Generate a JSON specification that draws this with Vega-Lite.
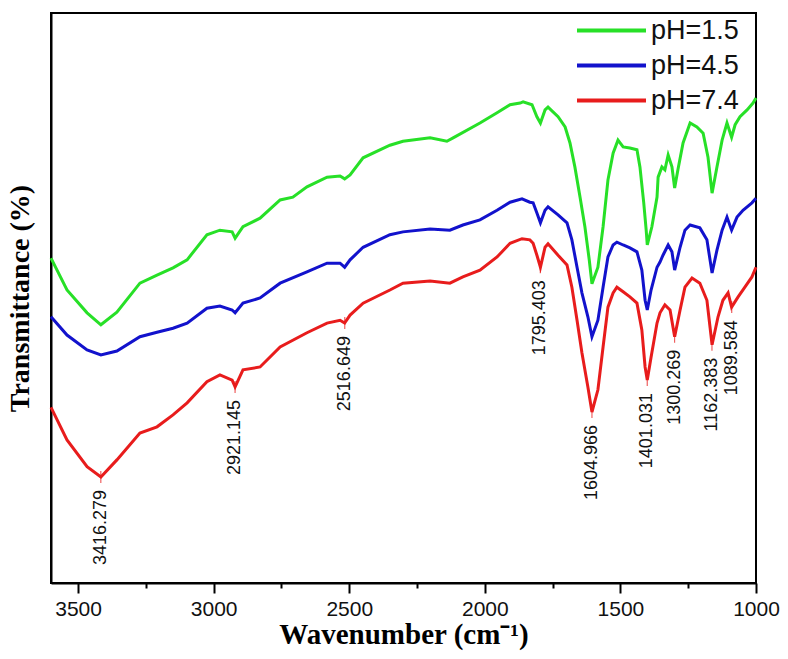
{
  "$schema": "https://vega.github.io/schema/vega-lite/v6.json",
  "autosize": {"type": "none"},
  "padding": {"left": 51, "top": 13, "right": 32, "bottom": 76},
  "width": 705,
  "height": 570,
  "background": "white",
  "config": {
    "view": {"stroke": "black", "strokeWidth": 2},
    "axis": {"domainColor": "black", "domainWidth": 2, "grid": false}
  },
  "datasets": {
    "spectra": [
      {"wn":3600,"T":57.0,"s":"pH=1.5"},{"wn":3541,"T":51.4,"s":"pH=1.5"},{"wn":3467,"T":47.4,"s":"pH=1.5"},{"wn":3416,"T":45.3,"s":"pH=1.5"},{"wn":3357,"T":47.5,"s":"pH=1.5"},{"wn":3272,"T":52.6,"s":"pH=1.5"},{"wn":3209,"T":54.0,"s":"pH=1.5"},{"wn":3150,"T":55.3,"s":"pH=1.5"},{"wn":3098,"T":56.7,"s":"pH=1.5"},{"wn":3025,"T":61.1,"s":"pH=1.5"},{"wn":2977,"T":61.9,"s":"pH=1.5"},{"wn":2932,"T":61.6,"s":"pH=1.5"},{"wn":2921,"T":60.5,"s":"pH=1.5"},{"wn":2892,"T":62.5,"s":"pH=1.5"},{"wn":2829,"T":64.0,"s":"pH=1.5"},{"wn":2755,"T":67.2,"s":"pH=1.5"},{"wn":2708,"T":67.7,"s":"pH=1.5"},{"wn":2656,"T":69.5,"s":"pH=1.5"},{"wn":2582,"T":71.2,"s":"pH=1.5"},{"wn":2534,"T":71.4,"s":"pH=1.5"},{"wn":2517,"T":70.9,"s":"pH=1.5"},{"wn":2497,"T":71.6,"s":"pH=1.5"},{"wn":2449,"T":74.6,"s":"pH=1.5"},{"wn":2350,"T":76.8,"s":"pH=1.5"},{"wn":2302,"T":77.5,"s":"pH=1.5"},{"wn":2202,"T":78.1,"s":"pH=1.5"},{"wn":2140,"T":77.5,"s":"pH=1.5"},{"wn":2117,"T":78.1,"s":"pH=1.5"},{"wn":2018,"T":80.7,"s":"pH=1.5"},{"wn":1955,"T":82.5,"s":"pH=1.5"},{"wn":1907,"T":83.9,"s":"pH=1.5"},{"wn":1870,"T":84.2,"s":"pH=1.5"},{"wn":1859,"T":84.4,"s":"pH=1.5"},{"wn":1826,"T":83.9,"s":"pH=1.5"},{"wn":1808,"T":81.8,"s":"pH=1.5"},{"wn":1795,"T":80.7,"s":"pH=1.5"},{"wn":1778,"T":83.0,"s":"pH=1.5"},{"wn":1767,"T":83.5,"s":"pH=1.5"},{"wn":1730,"T":81.8,"s":"pH=1.5"},{"wn":1704,"T":80.0,"s":"pH=1.5"},{"wn":1686,"T":77.2,"s":"pH=1.5"},{"wn":1668,"T":73.0,"s":"pH=1.5"},{"wn":1649,"T":67.7,"s":"pH=1.5"},{"wn":1631,"T":62.5,"s":"pH=1.5"},{"wn":1615,"T":56.7,"s":"pH=1.5"},{"wn":1605,"T":52.5,"s":"pH=1.5"},{"wn":1583,"T":55.4,"s":"pH=1.5"},{"wn":1564,"T":62.5,"s":"pH=1.5"},{"wn":1546,"T":70.7,"s":"pH=1.5"},{"wn":1527,"T":75.4,"s":"pH=1.5"},{"wn":1509,"T":77.7,"s":"pH=1.5"},{"wn":1490,"T":76.5,"s":"pH=1.5"},{"wn":1465,"T":76.3,"s":"pH=1.5"},{"wn":1439,"T":76.0,"s":"pH=1.5"},{"wn":1428,"T":73.0,"s":"pH=1.5"},{"wn":1414,"T":66.7,"s":"pH=1.5"},{"wn":1405,"T":61.9,"s":"pH=1.5"},{"wn":1401,"T":59.3,"s":"pH=1.5"},{"wn":1384,"T":62.5,"s":"pH=1.5"},{"wn":1365,"T":67.7,"s":"pH=1.5"},{"wn":1361,"T":71.2,"s":"pH=1.5"},{"wn":1347,"T":73.0,"s":"pH=1.5"},{"wn":1336,"T":72.5,"s":"pH=1.5"},{"wn":1324,"T":75.1,"s":"pH=1.5"},{"wn":1310,"T":73.0,"s":"pH=1.5"},{"wn":1300,"T":69.3,"s":"pH=1.5"},{"wn":1288,"T":72.5,"s":"pH=1.5"},{"wn":1269,"T":77.2,"s":"pH=1.5"},{"wn":1243,"T":80.7,"s":"pH=1.5"},{"wn":1218,"T":80.0,"s":"pH=1.5"},{"wn":1195,"T":78.9,"s":"pH=1.5"},{"wn":1177,"T":74.7,"s":"pH=1.5"},{"wn":1162,"T":68.4,"s":"pH=1.5"},{"wn":1144,"T":73.0,"s":"pH=1.5"},{"wn":1125,"T":77.7,"s":"pH=1.5"},{"wn":1107,"T":80.7,"s":"pH=1.5"},{"wn":1090,"T":78.2,"s":"pH=1.5"},{"wn":1077,"T":80.4,"s":"pH=1.5"},{"wn":1059,"T":81.8,"s":"pH=1.5"},{"wn":1033,"T":83.0,"s":"pH=1.5"},{"wn":1011,"T":84.2,"s":"pH=1.5"},{"wn":1000,"T":85.1,"s":"pH=1.5"},

      {"wn":3600,"T":46.7,"s":"pH=4.5"},{"wn":3541,"T":43.5,"s":"pH=4.5"},{"wn":3467,"T":40.9,"s":"pH=4.5"},{"wn":3416,"T":40.0,"s":"pH=4.5"},{"wn":3357,"T":40.7,"s":"pH=4.5"},{"wn":3272,"T":43.2,"s":"pH=4.5"},{"wn":3209,"T":44.0,"s":"pH=4.5"},{"wn":3150,"T":44.7,"s":"pH=4.5"},{"wn":3098,"T":45.6,"s":"pH=4.5"},{"wn":3025,"T":48.2,"s":"pH=4.5"},{"wn":2977,"T":48.6,"s":"pH=4.5"},{"wn":2932,"T":47.9,"s":"pH=4.5"},{"wn":2921,"T":47.4,"s":"pH=4.5"},{"wn":2892,"T":49.1,"s":"pH=4.5"},{"wn":2829,"T":50.0,"s":"pH=4.5"},{"wn":2755,"T":52.6,"s":"pH=4.5"},{"wn":2656,"T":54.6,"s":"pH=4.5"},{"wn":2582,"T":56.1,"s":"pH=4.5"},{"wn":2534,"T":56.1,"s":"pH=4.5"},{"wn":2517,"T":55.4,"s":"pH=4.5"},{"wn":2497,"T":56.7,"s":"pH=4.5"},{"wn":2449,"T":58.9,"s":"pH=4.5"},{"wn":2350,"T":61.1,"s":"pH=4.5"},{"wn":2302,"T":61.6,"s":"pH=4.5"},{"wn":2202,"T":62.1,"s":"pH=4.5"},{"wn":2129,"T":61.9,"s":"pH=4.5"},{"wn":2081,"T":62.8,"s":"pH=4.5"},{"wn":2018,"T":63.7,"s":"pH=4.5"},{"wn":1955,"T":65.4,"s":"pH=4.5"},{"wn":1907,"T":66.8,"s":"pH=4.5"},{"wn":1863,"T":67.4,"s":"pH=4.5"},{"wn":1834,"T":66.8,"s":"pH=4.5"},{"wn":1822,"T":66.7,"s":"pH=4.5"},{"wn":1808,"T":64.9,"s":"pH=4.5"},{"wn":1795,"T":63.2,"s":"pH=4.5"},{"wn":1778,"T":65.4,"s":"pH=4.5"},{"wn":1767,"T":66.0,"s":"pH=4.5"},{"wn":1730,"T":64.6,"s":"pH=4.5"},{"wn":1697,"T":63.2,"s":"pH=4.5"},{"wn":1679,"T":60.2,"s":"pH=4.5"},{"wn":1660,"T":55.4,"s":"pH=4.5"},{"wn":1642,"T":50.9,"s":"pH=4.5"},{"wn":1620,"T":46.7,"s":"pH=4.5"},{"wn":1605,"T":43.2,"s":"pH=4.5"},{"wn":1583,"T":46.1,"s":"pH=4.5"},{"wn":1564,"T":51.9,"s":"pH=4.5"},{"wn":1546,"T":57.2,"s":"pH=4.5"},{"wn":1527,"T":59.3,"s":"pH=4.5"},{"wn":1513,"T":59.8,"s":"pH=4.5"},{"wn":1490,"T":59.3,"s":"pH=4.5"},{"wn":1465,"T":58.8,"s":"pH=4.5"},{"wn":1439,"T":58.1,"s":"pH=4.5"},{"wn":1421,"T":54.9,"s":"pH=4.5"},{"wn":1409,"T":49.6,"s":"pH=4.5"},{"wn":1401,"T":47.9,"s":"pH=4.5"},{"wn":1387,"T":51.4,"s":"pH=4.5"},{"wn":1365,"T":55.4,"s":"pH=4.5"},{"wn":1354,"T":56.3,"s":"pH=4.5"},{"wn":1343,"T":57.5,"s":"pH=4.5"},{"wn":1324,"T":59.3,"s":"pH=4.5"},{"wn":1310,"T":58.1,"s":"pH=4.5"},{"wn":1300,"T":54.9,"s":"pH=4.5"},{"wn":1280,"T":58.9,"s":"pH=4.5"},{"wn":1262,"T":61.9,"s":"pH=4.5"},{"wn":1243,"T":62.8,"s":"pH=4.5"},{"wn":1207,"T":62.3,"s":"pH=4.5"},{"wn":1181,"T":60.2,"s":"pH=4.5"},{"wn":1162,"T":54.4,"s":"pH=4.5"},{"wn":1144,"T":58.4,"s":"pH=4.5"},{"wn":1125,"T":61.9,"s":"pH=4.5"},{"wn":1107,"T":64.2,"s":"pH=4.5"},{"wn":1090,"T":61.9,"s":"pH=4.5"},{"wn":1070,"T":64.2,"s":"pH=4.5"},{"wn":1048,"T":65.4,"s":"pH=4.5"},{"wn":1015,"T":66.7,"s":"pH=4.5"},{"wn":1000,"T":67.5,"s":"pH=4.5"},

      {"wn":3600,"T":30.8,"s":"pH=7.4"},{"wn":3541,"T":25.1,"s":"pH=7.4"},{"wn":3467,"T":20.4,"s":"pH=7.4"},{"wn":3416,"T":18.6,"s":"pH=7.4"},{"wn":3357,"T":21.6,"s":"pH=7.4"},{"wn":3272,"T":26.3,"s":"pH=7.4"},{"wn":3209,"T":27.4,"s":"pH=7.4"},{"wn":3150,"T":29.5,"s":"pH=7.4"},{"wn":3098,"T":31.6,"s":"pH=7.4"},{"wn":3025,"T":35.3,"s":"pH=7.4"},{"wn":2977,"T":36.5,"s":"pH=7.4"},{"wn":2932,"T":35.6,"s":"pH=7.4"},{"wn":2921,"T":34.4,"s":"pH=7.4"},{"wn":2892,"T":37.4,"s":"pH=7.4"},{"wn":2829,"T":37.9,"s":"pH=7.4"},{"wn":2755,"T":41.4,"s":"pH=7.4"},{"wn":2656,"T":43.9,"s":"pH=7.4"},{"wn":2582,"T":45.6,"s":"pH=7.4"},{"wn":2534,"T":46.1,"s":"pH=7.4"},{"wn":2517,"T":45.6,"s":"pH=7.4"},{"wn":2497,"T":47.0,"s":"pH=7.4"},{"wn":2449,"T":49.1,"s":"pH=7.4"},{"wn":2350,"T":51.4,"s":"pH=7.4"},{"wn":2302,"T":52.6,"s":"pH=7.4"},{"wn":2202,"T":53.0,"s":"pH=7.4"},{"wn":2129,"T":52.6,"s":"pH=7.4"},{"wn":2081,"T":53.7,"s":"pH=7.4"},{"wn":2018,"T":54.9,"s":"pH=7.4"},{"wn":1955,"T":57.2,"s":"pH=7.4"},{"wn":1907,"T":59.6,"s":"pH=7.4"},{"wn":1863,"T":60.4,"s":"pH=7.4"},{"wn":1834,"T":60.2,"s":"pH=7.4"},{"wn":1822,"T":59.6,"s":"pH=7.4"},{"wn":1808,"T":57.5,"s":"pH=7.4"},{"wn":1795,"T":55.4,"s":"pH=7.4"},{"wn":1778,"T":58.9,"s":"pH=7.4"},{"wn":1767,"T":59.5,"s":"pH=7.4"},{"wn":1730,"T":57.5,"s":"pH=7.4"},{"wn":1697,"T":55.8,"s":"pH=7.4"},{"wn":1679,"T":51.9,"s":"pH=7.4"},{"wn":1660,"T":46.1,"s":"pH=7.4"},{"wn":1642,"T":40.4,"s":"pH=7.4"},{"wn":1620,"T":34.4,"s":"pH=7.4"},{"wn":1605,"T":30.0,"s":"pH=7.4"},{"wn":1583,"T":33.9,"s":"pH=7.4"},{"wn":1564,"T":41.4,"s":"pH=7.4"},{"wn":1546,"T":48.4,"s":"pH=7.4"},{"wn":1527,"T":50.9,"s":"pH=7.4"},{"wn":1513,"T":51.9,"s":"pH=7.4"},{"wn":1490,"T":51.1,"s":"pH=7.4"},{"wn":1465,"T":50.2,"s":"pH=7.4"},{"wn":1439,"T":49.1,"s":"pH=7.4"},{"wn":1421,"T":44.4,"s":"pH=7.4"},{"wn":1409,"T":37.9,"s":"pH=7.4"},{"wn":1401,"T":35.6,"s":"pH=7.4"},{"wn":1387,"T":39.6,"s":"pH=7.4"},{"wn":1365,"T":45.6,"s":"pH=7.4"},{"wn":1354,"T":47.4,"s":"pH=7.4"},{"wn":1336,"T":48.8,"s":"pH=7.4"},{"wn":1317,"T":47.9,"s":"pH=7.4"},{"wn":1300,"T":43.2,"s":"pH=7.4"},{"wn":1280,"T":47.9,"s":"pH=7.4"},{"wn":1262,"T":51.9,"s":"pH=7.4"},{"wn":1236,"T":53.5,"s":"pH=7.4"},{"wn":1207,"T":52.6,"s":"pH=7.4"},{"wn":1181,"T":49.6,"s":"pH=7.4"},{"wn":1162,"T":41.8,"s":"pH=7.4"},{"wn":1140,"T":46.7,"s":"pH=7.4"},{"wn":1122,"T":49.6,"s":"pH=7.4"},{"wn":1103,"T":50.9,"s":"pH=7.4"},{"wn":1090,"T":48.4,"s":"pH=7.4"},{"wn":1066,"T":50.2,"s":"pH=7.4"},{"wn":1041,"T":51.9,"s":"pH=7.4"},{"wn":1015,"T":53.7,"s":"pH=7.4"},{"wn":1000,"T":55.4,"s":"pH=7.4"}
    ],
    "peaks": [
      {"wn":3416.279,"T":18.6,"label":"3416.279"},
      {"wn":2921.145,"T":34.4,"label":"2921.145"},
      {"wn":2516.649,"T":45.6,"label":"2516.649"},
      {"wn":1795.403,"T":55.4,"label":"1795.403"},
      {"wn":1604.966,"T":30.0,"label":"1604.966"},
      {"wn":1401.031,"T":35.6,"label":"1401.031"},
      {"wn":1300.269,"T":43.2,"label":"1300.269"},
      {"wn":1162.383,"T":41.8,"label":"1162.383"},
      {"wn":1089.584,"T":48.4,"label":"1089.584"}
    ]
  },
  "layer": [
    {
      "data": {"name": "spectra"},
      "mark": {"type": "line", "strokeWidth": 3, "interpolate": "linear"},
      "encoding": {
        "x": {
          "field": "wn", "type": "quantitative",
          "scale": {"domain": [1000, 3600], "reverse": true, "nice": false, "zero": false},
          "axis": {
            "title": "Wavenumber (cm⁻¹)",
            "titleFont": "Liberation Serif", "titleFontWeight": "bold", "titleFontSize": 29, "titleColor": "black", "titlePadding": 1,
            "values": [1000,1250,1500,1750,2000,2250,2500,2750,3000,3250,3500],
            "format": "d",
            "labelExpr": "datum.value % 500 === 0 ? datum.label : ''",
            "labelFont": "Liberation Sans", "labelFontSize": 21, "labelColor": "#111", "labelPadding": 5,
            "tickColor": "black", "tickWidth": 2,
            "tickSize": {"condition": {"test": "datum.value % 500 === 0", "value": 10}, "value": 5},
            "labelFlush": false, "labelOverlap": false
          }
        },
        "y": {
          "field": "T", "type": "quantitative",
          "scale": {"domain": [0, 100], "nice": false},
          "axis": {
            "title": "Transmittance (%)",
            "titleFont": "Liberation Serif", "titleFontWeight": "bold", "titleFontSize": 28, "titleColor": "black", "titlePadding": 17,
            "labels": false, "ticks": false
          }
        },
        "color": {
          "field": "s", "type": "nominal",
          "scale": {"domain": ["pH=1.5", "pH=4.5", "pH=7.4"], "range": ["#27e027", "#1212cc", "#e81c1c"]},
          "legend": {
            "orient": "none", "legendX": 524, "legendY": 4, "title": null,
            "symbolType": "M-1,0H5", "symbolSize": 529, "symbolStrokeWidth": 4,
            "labelFont": "Liberation Sans", "labelFontSize": 27, "labelColor": "#111", "labelOffset": 49,
            "rowPadding": 7, "padding": 0
          }
        }
      }
    },
    {
      "data": {"name": "peaks"},
      "mark": {"type": "tick", "orient": "vertical", "size": 12, "thickness": 1.2, "color": "#e81c1c"},
      "encoding": {
        "x": {"field": "wn", "type": "quantitative"},
        "y": {"field": "T", "type": "quantitative"}
      }
    },
    {
      "data": {"name": "peaks"},
      "mark": {"type": "text", "angle": 270, "align": "right", "baseline": "middle", "dx": -13, "font": "Liberation Sans", "fontSize": 18, "color": "#111"},
      "encoding": {
        "x": {"field": "wn", "type": "quantitative"},
        "y": {"field": "T", "type": "quantitative"},
        "text": {"field": "label", "type": "nominal"}
      }
    }
  ]
}
